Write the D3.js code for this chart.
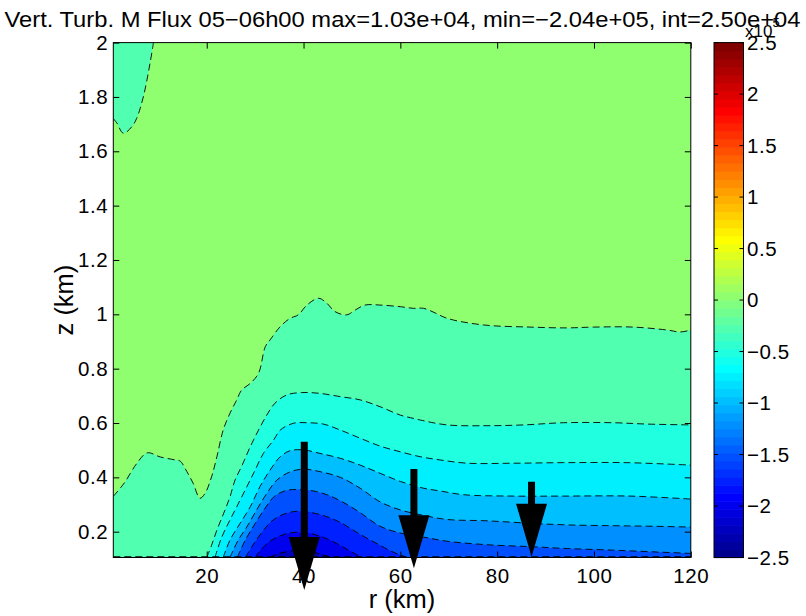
<!DOCTYPE html>
<html>
<head>
<meta charset="utf-8">
<script src="https://cdn.jsdelivr.net/npm/d3@7"></script>
<style>
  html, body { margin: 0; padding: 0; background: #fff; }
  text { font-family: "Liberation Sans", Arial, Helvetica, sans-serif; fill: #000; }
</style>
</head>
<body>
<svg id="chart" width="806" height="616"></svg>
<script>
// ---------------- DATA ----------------
const titleText = "Vert. Turb. M Flux 05\u221206h00 max=1.03e+04, min=\u22122.04e+05, int=2.50e+04";
const xTicks = [20, 40, 60, 80, 100, 120];
const yTicks = [0.2, 0.4, 0.6, 0.8, 1, 1.2, 1.4, 1.6, 1.8, 2];
const cbTicks = [-2.5, -2, -1.5, -1, -0.5, 0, 0.5, 1, 1.5, 2, 2.5];
// contour levels (units of 1e5), interval 2.5e4
const levels = [0, -0.25, -0.5, -0.75, -1.0, -1.25, -1.5, -1.75, -2.0];
// contour lines, [r (km), z (km)]
const c0 = [[0.7,0.33],[3,0.38],[5.5,0.45],[7.7,0.49],[10.4,0.475],[13.5,0.464],[14.5,0.46],[15.9,0.421],[17.2,0.378],[18.6,0.323],[19.65,0.341],[21.0,0.402],[22.1,0.476],[23.4,0.574],[24.8,0.636],[26.2,0.685],[27.2,0.721],[29.0,0.746],[30.7,0.783],[32.1,0.881],[33.1,0.906],[35.2,0.955],[37.2,0.985],[38.9,0.998],[40.7,1.034],[43.1,1.059],[44.8,1.041],[46.5,1.010],[48.9,0.998],[50.7,1.016],[52.7,1.034],[55.8,1.034],[60.0,1.028],[62.7,1.022],[64.8,1.022],[67.2,1.005],[69.7,0.985],[77.1,0.961],[86.8,0.953],[94.5,0.950],[99.9,0.953],[108.1,0.953],[115.2,0.942],[117.8,0.935],[120,0.942]];
const c1 = [[20.0,0.105],[21.0,0.15],[22.1,0.206],[23.1,0.25],[24.0,0.29],[24.8,0.328],[25.85,0.39],[27.2,0.44],[29.0,0.513],[30.7,0.574],[32.4,0.629],[34.1,0.673],[36.5,0.703],[39.6,0.712],[43.4,0.709],[47.6,0.697],[51.7,0.685],[55.8,0.66],[60.0,0.629],[62.7,0.617],[64.1,0.611],[69.6,0.593],[77.9,0.590],[85.5,0.593],[93.7,0.601],[104,0.601],[111,0.596],[120,0.593]];
const c2 = [[21.7,0.105],[23.1,0.18],[24.8,0.243],[26.2,0.292],[28.3,0.366],[30.0,0.427],[31.7,0.488],[33.8,0.537],[35.2,0.574],[37.9,0.599],[40.7,0.601],[44.1,0.596],[47.6,0.574],[51.7,0.544],[55.8,0.515],[60.0,0.494],[64.1,0.476],[68.2,0.464],[73.8,0.452],[83.4,0.452],[93.7,0.454],[106.8,0.454],[120,0.445]];
const c3 = [[23.4,0.105],[24.8,0.169],[26.9,0.231],[29.0,0.292],[31.0,0.366],[33.1,0.427],[35.2,0.476],[37.2,0.498],[40.0,0.501],[43.4,0.488],[47.6,0.47],[51.7,0.445],[55.8,0.415],[60,0.385],[64.8,0.36],[68.2,0.35],[73.1,0.336],[83.4,0.331],[93.7,0.331],[107.5,0.331],[120,0.32]];
const c4 = [[24.8,0.105],[26.5,0.169],[28.3,0.218],[30.3,0.28],[32.4,0.341],[34.5,0.39],[37.2,0.42],[40.0,0.43],[43.4,0.421],[47.6,0.40],[51.7,0.36],[55.8,0.31],[60,0.28],[64.8,0.26],[69.6,0.245],[77.9,0.24],[86.8,0.231],[94.5,0.225],[104,0.222],[112,0.22],[120,0.217]];
const c5 = [[26.3,0.105],[28,0.17],[30,0.23],[32,0.285],[34,0.33],[36.5,0.352],[39,0.355],[42,0.35],[45,0.335],[48,0.31],[51.7,0.27],[55.8,0.22],[60,0.195],[64.8,0.18],[69.6,0.165],[77.9,0.152],[86.8,0.145],[94.5,0.138],[104,0.132],[112,0.126],[120,0.12]];
const c6 = [[28,0.105],[29.5,0.15],[31.5,0.2],[33.5,0.24],[36,0.265],[38.5,0.275],[41,0.272],[44,0.26],[47.5,0.235],[51.7,0.19],[55.8,0.15],[58.5,0.125],[61.5,0.105]];
const c7 = [[30,0.105],[31.5,0.14],[33.5,0.17],[36,0.19],[38.5,0.198],[41,0.195],[44,0.18],[47,0.155],[50,0.125],[52,0.105]];
const c8 = [[33,0.105],[35,0.12],[38,0.13],[41,0.128],[44,0.115],[46,0.105]];
const contourLines = [c0, c1, c2, c3, c4, c5, c6, c7, c8];
// small negative patch at upper left (closed against the top edge)
const topLeftPatch = [[0.7,1.72],[1.4,1.705],[2.8,1.666],[4.5,1.69],[5.5,1.72],[6.9,1.80],[8.3,1.925],[9.0,2.0]];
// surface contour hugging the bottom
const surfaceLine = [[0.7,0.108],[120,0.108]];
// flux arrows
const arrowR = [40.15, 62.8, 87.1];
const arrowTop = [0.531, 0.431, 0.384];
const arrowTip = [-0.015, 0.065, 0.108];

// ---------------- JET COLORMAP (64) ----------------
function jet(m) {
  const n = Math.ceil(m / 4);
  const u = [];
  for (let k = 1; k <= n; k++) u.push(k / n);
  for (let k = 1; k < n; k++) u.push(1);
  for (let k = n; k >= 1; k--) u.push(k / n);
  const off = Math.ceil(n / 2) - (m % 4 === 1 ? 1 : 0);
  const R = new Array(m).fill(0), G = new Array(m).fill(0), B = new Array(m).fill(0);
  u.forEach((v, k) => {
    const g = off + k + 1, r = g + n, b = g - n;
    if (r >= 1 && r <= m) R[r - 1] = v;
    if (g >= 1 && g <= m) G[g - 1] = v;
    if (b >= 1 && b <= m) B[b - 1] = v;
  });
  return R.map((_, i) => d3.rgb(R[i] * 255, G[i] * 255, B[i] * 255).formatHex());
}
const cmap = jet(64);
const cmin = -2.5, cmax = 2.5;
function colorOf(v) {
  let idx = Math.floor((v - cmin) / (cmax - cmin) * 64 + 1e-9);
  idx = Math.max(0, Math.min(63, idx));
  return cmap[idx];
}

// ---------------- LAYOUT ----------------
const svg = d3.select("#chart");
const L = 113.3, R = 690.8, T = 42.6, B = 557.5;
const x = d3.scaleLinear().domain([0.7, 120]).range([L, R]);
const y = d3.scaleLinear().domain([0.105, 2]).range([B, T]);
const FONT = "Liberation Sans, Arial, Helvetica, sans-serif";
const TICKFS = 20.5;

svg.append("defs").append("clipPath").attr("id", "plotclip")
  .append("rect").attr("x", L).attr("y", T).attr("width", R - L).attr("height", B - T);

const plot = svg.append("g").attr("clip-path", "url(#plotclip)");
// background (level 0)
plot.append("rect").attr("x", L).attr("y", T).attr("width", R - L).attr("height", B - T)
  .attr("fill", colorOf(levels[0]));

const curve = d3.curveCatmullRom.alpha(0.5);
const areaBelow = d3.area().x(d => x(d[0])).y0(y(0.105)).y1(d => y(d[1])).curve(curve);
const areaAbove = d3.area().x(d => x(d[0])).y0(y(2)).y1(d => y(d[1])).curve(curve);
const lineGen = d3.line().x(d => x(d[0])).y(d => y(d[1])).curve(curve);

// top-left patch
plot.append("path").attr("d", areaAbove(topLeftPatch)).attr("fill", colorOf(levels[0] - 0.25));
// filled bands
contourLines.forEach((c, k) => {
  plot.append("path").attr("d", areaBelow(c)).attr("fill", colorOf(levels[k] - 0.25));
});
// dashed contour lines
const dash = "7,4";
[topLeftPatch, ...contourLines, surfaceLine].forEach(c => {
  plot.append("path").attr("d", lineGen(c)).attr("fill", "none")
    .attr("stroke", "#000").attr("stroke-width", 0.9).attr("stroke-dasharray", dash);
});

// ---------------- AXES ----------------
const tickLen = 6;
const axB = d3.axisBottom(x).tickValues(xTicks).tickSize(-tickLen).tickPadding(11).tickFormat(d3.format("d"));
const axT = d3.axisTop(x).tickValues(xTicks).tickSize(-tickLen).tickFormat("");
const axLft = d3.axisLeft(y).tickValues(yTicks).tickSize(-tickLen).tickPadding(5).tickFormat(d => d3.format("")(d));
const axRgt = d3.axisRight(y).tickValues(yTicks).tickSize(-tickLen).tickFormat("");

function styleAxis(g, fs) {
  g.select(".domain").remove();
  g.selectAll(".tick line").attr("stroke", "#000").attr("stroke-width", 1);
  g.selectAll(".tick text").attr("font-size", fs).attr("font-family", FONT).attr("fill", "#000")
    .attr("letter-spacing", "0.6px");
}
svg.append("g").attr("transform", `translate(0,${B})`).call(axB).call(g => styleAxis(g, TICKFS));
svg.append("g").attr("transform", `translate(0,${T})`).call(axT).call(g => styleAxis(g, TICKFS));
svg.append("g").attr("transform", `translate(${L},0)`).call(axLft).call(g => styleAxis(g, TICKFS));
svg.append("g").attr("transform", `translate(${R},0)`).call(axRgt).call(g => styleAxis(g, TICKFS));

svg.append("rect").attr("x", L).attr("y", T).attr("width", R - L).attr("height", B - T)
  .attr("fill", "none").attr("stroke", "#000").attr("stroke-width", 1);

// ---------------- ARROWS ----------------
const headLen = 53, headHalf = 15.5, shaftHalf = 3.5;
arrowR.forEach((r, i) => {
  const xc = x(r), yt = y(arrowTop[i]), yp = y(arrowTip[i]), yh = yp - headLen;
  const p = d3.path();
  p.moveTo(xc - shaftHalf, yt);
  p.lineTo(xc + shaftHalf, yt);
  p.lineTo(xc + shaftHalf, yh);
  p.lineTo(xc + headHalf, yh);
  p.lineTo(xc, yp);
  p.lineTo(xc - headHalf, yh);
  p.lineTo(xc - shaftHalf, yh);
  p.closePath();
  svg.append("path").attr("d", p.toString()).attr("fill", "#000");
});

// ---------------- LABELS ----------------
svg.append("text").attr("x", 402.5).attr("y", 27).attr("text-anchor", "middle")
  .attr("font-size", 22).attr("textLength", 796).attr("lengthAdjust", "spacingAndGlyphs")
  .text(titleText);
svg.append("text").attr("x", (L + R) / 2).attr("y", 608).attr("text-anchor", "middle")
  .attr("font-size", 25.5).text("r (km)");
svg.append("text").attr("transform", `translate(73,${(T + B) / 2}) rotate(-90)`)
  .attr("text-anchor", "middle").attr("font-size", 25.5).text("z (km)");

// ---------------- COLORBAR ----------------
const cbL = 714, cbR = 743.5;
const cy = d3.scaleLinear().domain([cmin, cmax]).range([B, T]);
const step = (cmax - cmin) / 64;
const cb = svg.append("g");
cmap.forEach((c, i) => {
  const v0 = cmin + i * step, v1 = v0 + step;
  cb.append("rect").attr("x", cbL).attr("y", cy(v1)).attr("width", cbR - cbL)
    .attr("height", cy(v0) - cy(v1) + 0.6).attr("fill", c);
});
cb.append("rect").attr("x", cbL).attr("y", T).attr("width", cbR - cbL).attr("height", B - T)
  .attr("fill", "none").attr("stroke", "#000").attr("stroke-width", 1);
cbTicks.forEach(v => {
  const yy = cy(v);
  cb.append("line").attr("x1", cbL).attr("x2", cbL + 4).attr("y1", yy).attr("y2", yy).attr("stroke", "#000");
  cb.append("line").attr("x1", cbR - 4).attr("x2", cbR).attr("y1", yy).attr("y2", yy).attr("stroke", "#000");
  cb.append("text").attr("x", 747).attr("y", yy).attr("dy", "0.35em").attr("font-size", TICKFS)
    .attr("letter-spacing", "0.6px").text(d3.format("")(v));
});
// exponent label (x 10^5), partly under the title as in the original
const ex = svg.append("text").attr("x", 745).attr("y", 37).attr("font-size", 17);
ex.append("tspan").text("x10");
ex.append("tspan").attr("dy", -10).attr("font-size", 13).text("5");
</script>
</body>
</html>
